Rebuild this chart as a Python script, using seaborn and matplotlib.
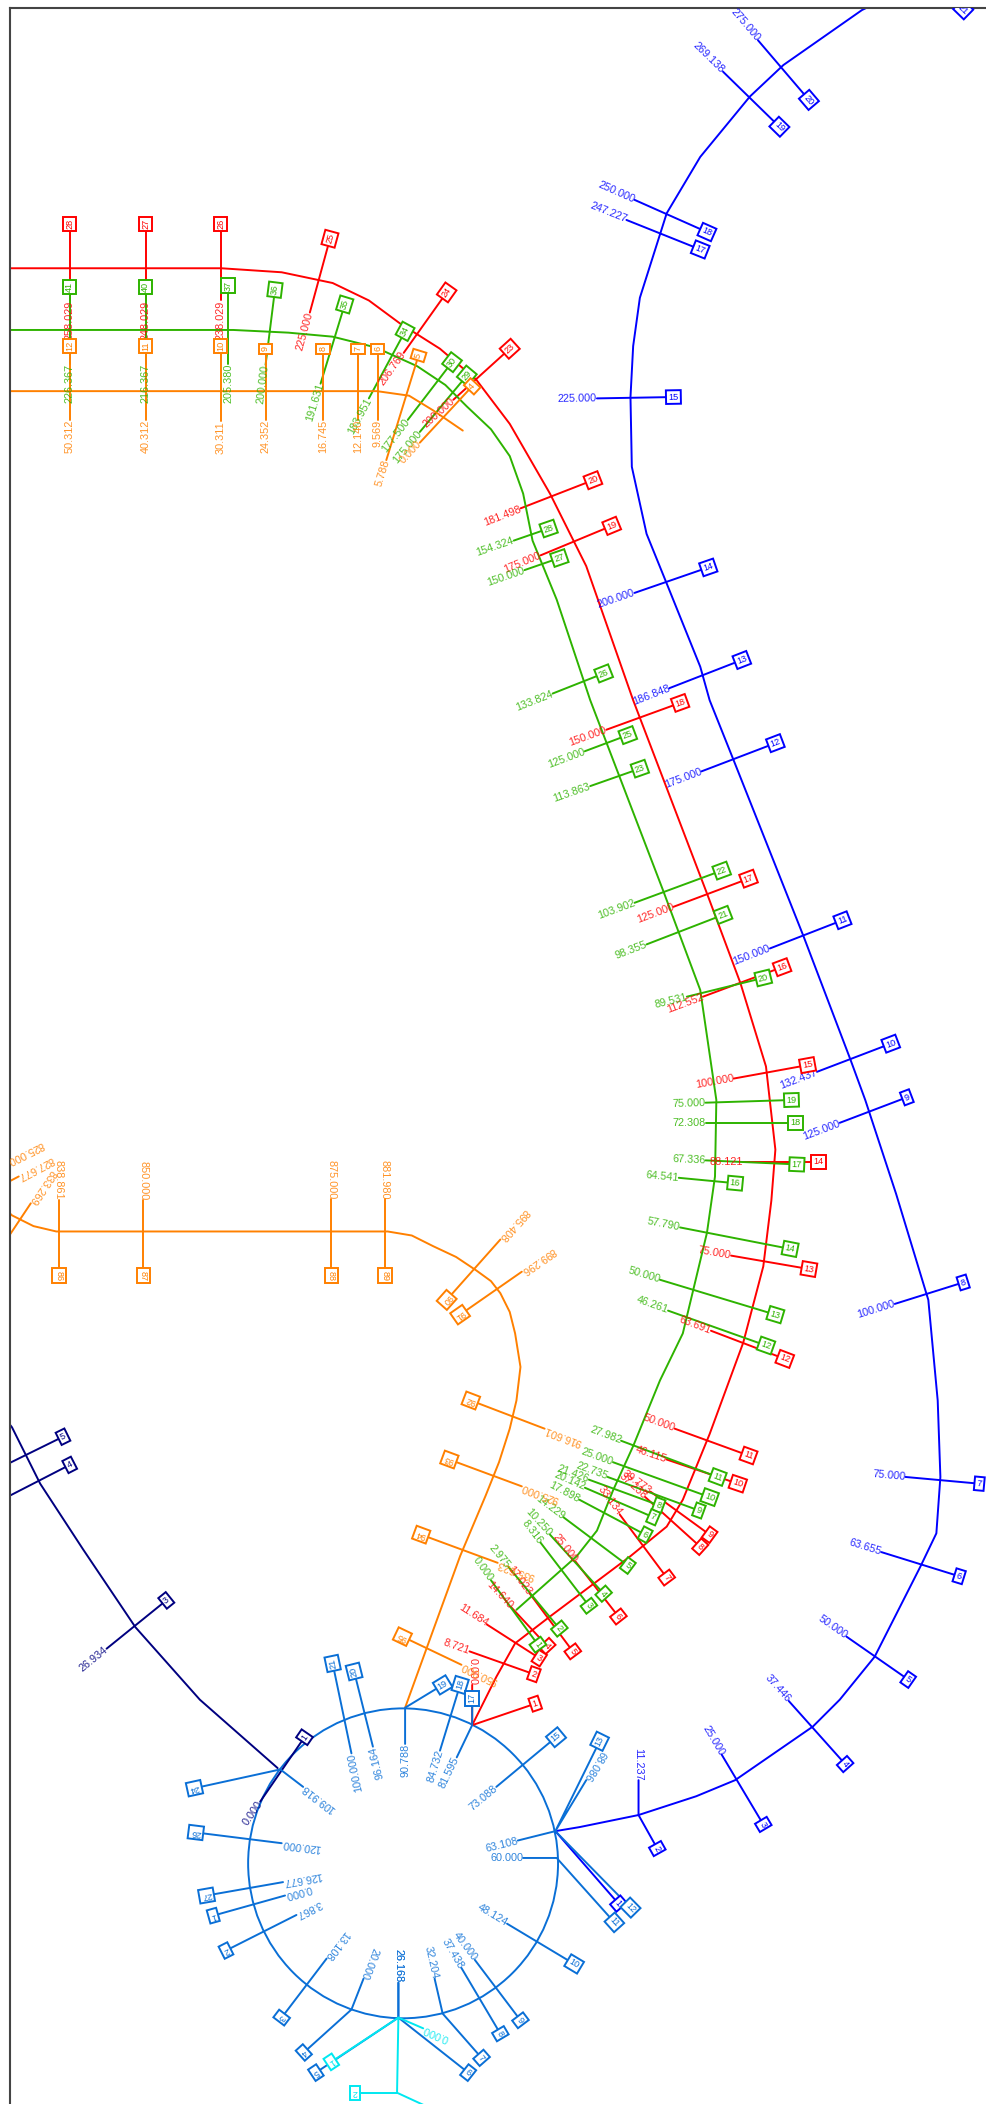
import numpy as np
import pandas as pd
import matplotlib.pyplot as plt
import seaborn as sns
from matplotlib.patches import Circle

# ---- route paths (picture units, y grows downward) ----
red_path_x = [-5, 165, 210, 248, 275, 298, 328, 355, 380, 410, 437, 472, 527, 552, 571, 578, 575, 569, 554, 529, 509, 497, 470, 410, 384, 370, 352]
red_path_y = [200, 200, 203, 211, 224, 241, 260, 283, 316, 368, 422, 522, 666, 733, 795, 857, 895, 944, 1001, 1069, 1118, 1138, 1160, 1205, 1225, 1250, 1286]

green_path_x = [-5, 174, 215, 248, 280, 311, 332, 348, 366, 380, 390, 397, 415, 440, 494, 522, 534, 533, 527, 509, 492, 472, 457, 445, 430, 385]
green_path_y = [246, 246, 248, 251, 259, 273, 287, 303, 320, 340, 368, 403, 447, 522, 663, 738, 820, 877, 919, 994, 1029, 1078, 1111, 1141, 1160, 1200]

orange_top_x = [-5, 281, 305, 323, 345]
orange_top_y = [291.6, 291.6, 295, 306, 321]
orange_mid_x = [-40, 9, 25, 42, 289, 307, 323, 340, 355, 366, 373, 380, 384, 388, 385, 380, 372, 362, 343, 323, 302]
orange_mid_y = [860, 906, 914, 918, 918, 921, 929, 937, 947, 955, 964, 978, 994, 1019, 1044, 1065, 1090, 1115, 1160, 1215, 1273]

blue_path_x = [720, 642.6, 584, 559, 522, 497, 477, 472, 470, 471, 482, 497, 522, 529, 547, 599, 634, 645, 668, 692, 699, 701, 698, 686, 652, 626, 606, 548, 519, 476, 432, 414]
blue_path_y = [-30, 7.5, 48.5, 72, 117, 159, 222, 258, 296, 348, 398, 435, 497, 522, 567, 698, 790, 820, 890, 969, 1044, 1101, 1143, 1168, 1235, 1267, 1287, 1327, 1339, 1353, 1362, 1365]

navy_path_x = [-40, 9, 30, 62, 101, 149, 207]
navy_path_y = [1000, 1064, 1106, 1155, 1213, 1267, 1318]

cyan_path_x = [297, 296, 335]
cyan_path_y = [1504, 1560, 1578]

loop_center = (300.5, 1389)
loop_radius = 115.5

# ---- stops: (number, distance label, label end x, y, box x, y) ----
red_stops = [
    ("28", "258.029", 52, 224, 52, 167), ("27", "248.029", 108.6, 224, 108.6, 167),
    ("26", "238.029", 164.5, 224, 164.5, 167), ("25", "225.000", 231, 233, 246, 178),
    ("24", "206.769", 301, 263, 333, 218), ("23", "200.000", 338, 298, 380, 260),
    ("20", "181.498", 388, 379, 442, 358), ("19", "175.000", 403, 414, 456, 392),
    ("18", "150.000", 452, 544, 507, 524), ("17", "125.000", 502, 676, 558, 655),
    ("16", "112.552", 524, 743, 583, 721), ("15", "100.000", 547, 804, 602, 794),
    ("14", "88.121", 554, 866, 610, 866), ("13", "75.000", 545, 936, 603, 946),
    ("12", "63.691", 530, 992, 585, 1013), ("11", "50.000", 503, 1065, 558, 1085),
    ("10", "46.115", 497, 1088, 550, 1106), ("9", "39.773", 485, 1112, 529, 1144),
    ("8", "37.238", 481, 1116, 522, 1153), ("7", "33.134", 462, 1129, 497, 1176),
    ("6", "25.000", 429, 1164, 461, 1205), ("5", "17.023", 395, 1188, 427, 1231),
    ("4", "14.640", 381, 1198, 408, 1227), ("3", "11.684", 363, 1211, 402, 1236),
    ("2", "8.721", 350, 1231, 398, 1248), ("1", "0.000", 352, 1256, 399, 1270),
]
red_via = {"1": (352, 1286)}

green_stops = [
    ("41", "226.367", 52, 271, 52, 214), ("40", "216.367", 108.6, 271, 108.6, 214),
    ("37", "205.380", 170, 271, 170, 213), ("36", "200.000", 198, 272, 205, 216),
    ("35", "191.631", 239, 286, 257, 227), ("34", "183.951", 275, 297, 302, 247),
    ("30", "177.500", 304, 313, 337, 270), ("29", "175.000", 313, 322, 348, 280),
    ("28", "154.324", 383, 403, 409, 394), ("27", "150.000", 391, 425, 417, 416),
    ("26", "133.824", 412, 517, 450, 502), ("25", "125.000", 436, 560, 468, 548),
    ("23", "113.863", 440, 586, 477, 573), ("22", "103.902", 473, 673, 538, 649),
    ("21", "98.355", 482, 704, 539, 682), ("20", "89.531", 512, 743, 569, 729),
    ("19", "75.000", 526, 822, 590, 820), ("18", "72.308", 526, 837, 593, 837),
    ("17", "67.336", 526, 865, 594, 868), ("16", "64.541", 506, 878, 548, 882),
    ("14", "57.790", 507, 915, 589, 931), ("13", "50.000", 492, 954, 578, 980),
    ("12", "46.261", 498, 977, 571, 1003), ("11", "27.982", 463, 1074, 535, 1101),
    ("10", "25.000", 457, 1090, 529, 1116), ("9", "22.735", 453, 1101, 521, 1126),
    ("8", "21.426", 439, 1103, 491, 1122), ("7", "20.142", 436, 1109, 487, 1131),
    ("6", "17.898", 432, 1118, 481, 1144), ("5", "14.229", 420, 1131, 468, 1167),
    ("4", "10.250", 410, 1144, 450, 1188), ("3", "8.316", 403, 1150, 439, 1197),
    ("2", "2.975", 379, 1168, 417, 1214), ("1", "0.000", 366, 1178, 401, 1226),
]

# stops 83-85 have their boxes beyond the left border, only lines and labels show
orange_stops = [
    ("12", "50.312", 52, 313, 52, 258), ("11", "40.312", 108.6, 313, 108.6, 258),
    ("10", "30.311", 164.5, 314, 164.5, 258), ("9", "24.352", 198, 313, 198, 260),
    ("8", "16.745", 241, 313, 241, 260), ("7", "12.140", 267, 313, 267, 260),
    ("6", "9.569", 281.5, 313, 281.5, 260), ("5", "5.788", 288, 343, 312, 265),
    ("4", "0.000", 313, 330, 352, 288),
    ("83", "825.000", 6, 866, -54, 896), ("84", "827.677", 14, 877, -41, 906),
    ("85", "833.269", 23, 897, -9, 945),
    ("86", "838.861", 44, 894.5, 44, 951), ("87", "850.000", 107, 894.5, 107, 951),
    ("88", "875.000", 247, 894, 247, 951), ("89", "881.980", 287, 894, 287, 951),
    ("90", "895.408", 373, 924, 333, 969), ("91", "899.296", 389, 948, 343, 980),
    ("92", "916.601", 406, 1065, 351, 1044), ("93", "925.000", 389, 1108, 335, 1088),
    ("94", "935.623", 371, 1165, 314, 1144), ("95", "950.000", 344, 1241, 300, 1220),
]

blue_stops = [
    ("21", "", 680, -30, 718, 7),
    ("20", "275.000", 565, 30, 603, 74.5), ("19", "269.138", 539, 53.5, 581, 94.5),
    ("18", "250.000", 473, 149, 527, 173), ("17", "247.227", 467, 164, 522, 186),
    ("15", "225.000", 445, 297, 502, 296), ("14", "200.000", 473, 442, 528, 423),
    ("13", "186.848", 499, 513, 553, 492), ("12", "175.000", 523, 575, 578, 554),
    ("11", "150.000", 574, 707, 628, 686), ("10", "132.437", 609, 799, 664, 778),
    ("9", "125.000", 626, 837, 676, 818), ("8", "100.000", 667, 972, 718, 956),
    ("7", "75.000", 675, 1101, 730, 1106), ("6", "63.655", 657, 1157, 715, 1175),
    ("5", "50.000", 631, 1220, 677, 1252), ("4", "37.446", 588, 1268, 630, 1315),
    ("3", "25.000", 538, 1308, 569, 1360), ("2", "11.237", 476, 1327, 490, 1378),
    ("1", "", 414, 1365, 461, 1419),
]
blue_via = {"2": (476, 1353)}

navy_stops = [
    ("5", "", -20, 1104, 47, 1071), ("4", "", -20, 1129, 52, 1092),
    ("3", "26.934", 79.5, 1229, 124, 1193), ("1", "0.000", 194, 1343, 227, 1295),
]

loop_stops = [
    ("21", "100.000", 262, 1307, 248, 1240), ("20", "96.164", 278, 1302, 264, 1246),
    ("19", "90.788", 302, 1300, 330, 1256), ("18", "84.732", 328, 1305, 343, 1256),
    ("17", "81.595", 340.5, 1310, 352, 1266), ("15", "73.088", 370, 1332, 414.5, 1295),
    ("13", "68.086", 437, 1327, 447, 1298), ("12", "63.108", 386, 1372, 470, 1422),
    ("11", "60.000", 390, 1385, 458, 1433), ("10", "48.124", 378, 1434, 428, 1464),
    ("9", "40.000", 354, 1461, 388, 1506), ("8", "37.438", 344, 1467, 373, 1516),
    ("7", "32.204", 324, 1475, 359, 1534), ("6", "26.168", 297, 1478, 349, 1545),
    ("5", "26.168", 297, 1478, 235.5, 1545), ("4", "20.000", 271, 1475, 226.5, 1530),
    ("3", "13.108", 243.5, 1460, 210, 1504), ("2", "3.867", 221, 1427.5, 168.5, 1454),
    ("1", "0.000", 212.5, 1413, 159, 1428), ("27", "126.677", 211, 1403, 154, 1413),
    ("26", "120.000", 210, 1374, 146, 1366), ("24", "109.918", 226, 1332, 145, 1333),
]
loop_via = {"19": (302, 1273), "17": (352, 1286), "13": (414, 1365), "12": (414, 1365),
            "11": (415, 1385), "7": (330, 1501), "6": (297, 1504), "5": (297, 1504),
            "4": (262, 1498), "24": (209, 1319)}

cyan_stops = [("1", "0.000", 315.5, 1512, 247, 1537), ("2", "", 296, 1560, 264.5, 1560)]
cyan_via = {"1": (297, 1504)}

palette = {"red": "#ff0000", "green": "#2eb300", "orange": "#ff8000", "blue": "#0000ff",
           "navy": "#000080", "loop": "#0a6fd6", "cyan": "#00e8f0"}

routes = {
    "red": ([(red_path_x, red_path_y)], red_stops, red_via),
    "green": ([(green_path_x, green_path_y)], green_stops, {}),
    "orange": ([(orange_top_x, orange_top_y), (orange_mid_x, orange_mid_y)], orange_stops, {}),
    "blue": ([(blue_path_x, blue_path_y)], blue_stops, blue_via),
    "navy": ([(navy_path_x, navy_path_y)], navy_stops, {}),
    "loop": ([], loop_stops, loop_via),
    "cyan": ([(cyan_path_x, cyan_path_y)], cyan_stops, cyan_via),
}

sns.set_style("white")
plt.rcParams["font.family"] = ["Liberation Sans", "DejaVu Sans"]

fig = plt.figure(figsize=(9.86, 21.04), dpi=100)
ax = fig.add_axes([10 / 986, 0, 976 / 986, 2096 / 2104])
XMIN, XMAX, YMAX, YMIN = 7.5, 735, 1568.4, 6

rows = []
for rname, (paths, stops, via) in routes.items():
    for k, (px, py) in enumerate(paths):
        for x, y in zip(px, py):
            rows.append((rname, f"{rname}-path{k}", x, y))
    for num, lab, lx, ly, bx, by in stops:
        pts = [(lx, ly)] + ([via[num]] if num in via else []) + [(bx, by)]
        for x, y in pts:
            rows.append((rname, f"{rname}-stop{num}", x, y))
lines = pd.DataFrame(rows, columns=["route", "unit", "x", "y"])

sns.lineplot(data=lines, x="x", y="y", hue="route", units="unit", estimator=None,
             sort=False, palette=palette, legend=False, lw=1.4, ax=ax)
ax.add_patch(Circle(loop_center, loop_radius, fill=False, ec=palette["loop"], lw=1.4))


def angle(x0, y0, x1, y1):
    return np.degrees(np.arctan2(-(y1 - y0), x1 - x0))


for rname, (paths, stops, via) in routes.items():
    col = palette[rname]
    for num, lab, lx, ly, bx, by in stops:
        nx, ny = via.get(num, (bx, by))
        if lab:
            t = ax.text(lx, ly, lab, rotation=angle(lx, ly, nx, ny), rotation_mode="anchor",
                        ha="right", va="center", fontsize=7.8, color=col, alpha=0.85)
            t.set_clip_on(True)
        if bx < XMIN:  # box lies beyond the border
            continue
        px, py = via.get(num, (lx, ly))
        t = ax.text(bx, by, num, rotation=angle(px, py, bx, by), rotation_mode="anchor",
                    ha="center", va="center", fontsize=6.6, color=col, zorder=5,
                    bbox=dict(boxstyle="square,pad=0.25", fc="white", ec=col, lw=1.4))
        t.set_clip_on(True)

ax.set_xlim(XMIN, XMAX)
ax.set_ylim(YMAX, YMIN)
ax.set_xticks([])
ax.set_yticks([])
ax.set_xlabel("")
ax.set_ylabel("")
for side in ["right", "bottom"]:
    ax.spines[side].set_visible(False)
for side in ["left", "top"]:
    ax.spines[side].set_color("#444444")
    ax.spines[side].set_linewidth(1.5)

fig.savefig("out.png", dpi=100)
